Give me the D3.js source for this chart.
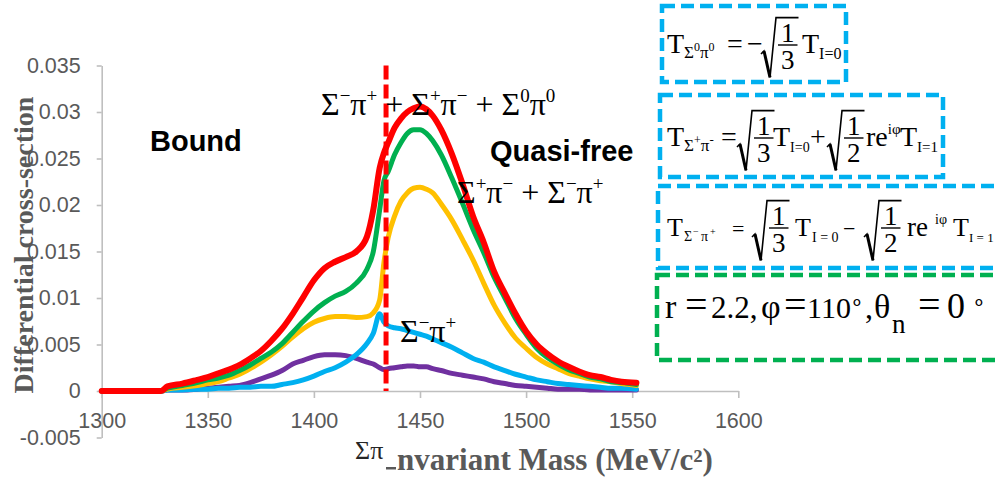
<!DOCTYPE html>
<html><head><meta charset="utf-8">
<script src="https://cdn.jsdelivr.net/npm/d3@7"></script>
<style>body{margin:0;background:#fff}</style>
</head><body>
<script>
// ---------- data ----------
const masses = [1300,1328,1331,1338,1345,1350,1355,1360,1365,1370,1375,1380,1385,1390,1395,1400,1405,1410,1415,1420,1425,1428,1431,1433,1435,1438,1441,1444,1447,1450,1453,1456,1460,1465,1470,1475,1480,1485,1490,1495,1500,1505,1510,1515,1520,1525,1530,1535,1540,1545,1552];
const sigma0pi0 = [0,0,0.0001,0.0001,0.0002,0.0003,0.0004,0.0005,0.0006,0.0009,0.0013,0.0017,0.0022,0.0029,0.0033,0.0037,0.0039,0.0039,0.0038,0.0035,0.0031,0.0029,0.0025,0.0023,0.0024,0.0025,0.0026,0.0027,0.0027,0.0026,0.0026,0.0024,0.0022,0.0019,0.0017,0.0015,0.0013,0.0010,0.0008,0.0006,0.0005,0.0004,0.0003,0.0002,0.0002,0.0002,0.0001,0.0001,0.0001,0.0001,0.0001];
const sigmaMpiP = [0,0,0.0001,0.0001,0.0002,0.0002,0.0003,0.0003,0.0004,0.0004,0.0005,0.0005,0.0007,0.0009,0.0012,0.0016,0.0021,0.0025,0.0031,0.0039,0.0051,0.0062,0.0083,0.0074,0.0070,0.0068,0.0067,0.0065,0.0063,0.0061,0.0059,0.0056,0.0052,0.0047,0.0041,0.0035,0.0031,0.0026,0.0022,0.0018,0.0015,0.0012,0.0010,0.0008,0.0007,0.0006,0.0005,0.0004,0.0003,0.0003,0.0002];
const sigmaPpiM = [0,0,0.0002,0.0004,0.0006,0.0008,0.0010,0.0014,0.0018,0.0024,0.0031,0.0039,0.0048,0.0058,0.0067,0.0074,0.0078,0.0080,0.0080,0.0079,0.0080,0.0084,0.0098,0.0138,0.0165,0.0188,0.0204,0.0213,0.0218,0.0219,0.0217,0.0213,0.0201,0.0184,0.0163,0.0141,0.0116,0.0092,0.0073,0.0057,0.0046,0.0036,0.0029,0.0024,0.0019,0.0016,0.0013,0.0011,0.0010,0.0008,0.0006];
const chargedSum = [0,0,0.0003,0.0006,0.0009,0.0012,0.0014,0.0017,0.0022,0.0028,0.0035,0.0042,0.0051,0.0063,0.0075,0.0086,0.0095,0.0102,0.0107,0.0116,0.0131,0.0150,0.0195,0.0226,0.0236,0.0254,0.0267,0.0277,0.0281,0.0281,0.0277,0.0269,0.0254,0.0229,0.0202,0.0174,0.0149,0.0122,0.0100,0.0078,0.0061,0.0046,0.0036,0.0029,0.0023,0.0019,0.0015,0.0013,0.0010,0.0009,0.0007];
const totalSum = [0,0,0.0005,0.0008,0.0012,0.0015,0.0019,0.0023,0.0028,0.0035,0.0043,0.0054,0.0067,0.0083,0.0101,0.0119,0.0132,0.0139,0.0144,0.0150,0.0166,0.0195,0.0240,0.0256,0.0267,0.0283,0.0293,0.0300,0.0304,0.0306,0.0303,0.0296,0.0281,0.0255,0.0223,0.0188,0.0160,0.0128,0.0105,0.0083,0.0064,0.0050,0.0040,0.0032,0.0026,0.0021,0.0017,0.0015,0.0012,0.0010,0.0009];
const seriesValues = [sigma0pi0, sigmaMpiP, sigmaPpiM, chargedSum, totalSum];
const seriesColors = ["#7030a0","#00b0f0","#ffc000","#00b050","#ff0000"];
const seriesWidths = [5,5,5,5,6];
const kbarNThreshold = 1434;
const xTicks = [1300,1350,1400,1450,1500,1550,1600];
const yTicks = [-0.005,0,0.005,0.01,0.015,0.02,0.025,0.03,0.035];
const yTickLabels = ["-0.005","0","0.005","0.01","0.015","0.02","0.025","0.03","0.035"];

// ---------- setup ----------
const W = 995, H = 478;
const svg = d3.select("body").append("svg").attr("width", W).attr("height", H)
  .style("background", "#fff");
const x = d3.scaleLinear().domain([1300, 1600]).range([101.7, 738.3]);
const y = d3.scaleLinear().domain([-0.005, 0.035]).range([437.5, 65.5]);

const axisColor = "#bfbfbf", labelColor = "#595959";
const tickFont = "'Liberation Sans', Arial, sans-serif";
const serif = "'Liberation Serif', 'Times New Roman', serif";

// y axis
const gy = svg.append("g").attr("transform", `translate(${x(1300)},0)`)
  .call(d3.axisLeft(y).tickValues(yTicks).tickFormat((d, i) => yTickLabels[i])
    .tickSizeInner(5).tickSizeOuter(0).tickPadding(16));
// x axis at zero
const gx = svg.append("g").attr("transform", `translate(0,${y(0)})`)
  .call(d3.axisBottom(x).tickValues(xTicks).tickFormat(d3.format("d"))
    .tickSizeInner(7).tickSizeOuter(0).tickPadding(15));
[gx, gy].forEach(g => {
  g.select(".domain").attr("stroke", axisColor).attr("stroke-width", 1.6);
  g.selectAll(".tick line").attr("stroke", axisColor).attr("stroke-width", 1.6);
  g.selectAll(".tick text").attr("fill", labelColor).attr("font-size", 21.5).attr("font-family", tickFont);
});

// axis titles
svg.append("text").attr("transform", "translate(33,245) rotate(-90)")
  .attr("text-anchor", "middle").attr("font-family", serif).attr("font-weight", "bold")
  .attr("font-size", 28).attr("fill", labelColor).text("Differential cross-section");
const xt = svg.append("text").attr("font-family", serif);
xt.append("tspan").attr("x", 355).attr("y", 459).attr("font-size", 26).attr("fill", "#262626").text("Σπ");
xt.append("tspan").attr("x", 385).attr("y", 470).attr("font-size", 31).attr("font-weight", "bold")
  .attr("fill", "#fff").text("I");
xt.append("tspan").attr("font-size", 31).attr("font-weight", "bold").attr("fill", labelColor)
  .text("nvariant Mass (MeV/c²)");
svg.append("rect").attr("x", 386).attr("y", 467).attr("width", 10).attr("height", 2.5).attr("fill", labelColor);

// ---------- curves ----------
const line = d3.line().x((d, i) => x(masses[i])).y(d => y(d)).curve(d3.curveMonotoneX);
seriesValues.forEach((vals, k) => {
  svg.append("path").datum(vals).attr("d", line).attr("fill", "none")
    .attr("stroke", seriesColors[k]).attr("stroke-width", seriesWidths[k])
    .attr("stroke-linejoin", "round").attr("stroke-linecap", "round");
});

// threshold dashed line
svg.append("line").attr("x1", x(kbarNThreshold)).attr("x2", x(kbarNThreshold))
  .attr("y1", y(0.035)).attr("y2", y(0)).attr("stroke", "#ff0000")
  .attr("stroke-width", 5).attr("stroke-dasharray", "14,5");

// ---------- labels ----------
svg.append("text").attr("x", 150).attr("y", 151).attr("font-family", tickFont)
  .attr("font-weight", "bold").attr("font-size", 29).attr("fill", "#000").text("Bound");
svg.append("text").attr("x", 490).attr("y", 161).attr("font-family", tickFont)
  .attr("font-weight", "bold").attr("font-size", 29).attr("fill", "#000").text("Quasi-free");

function sigmaLabel(x0, base, parts, fs, sfs) {
  const t = svg.append("text").attr("x", x0).attr("y", base).attr("font-family", serif).attr("fill", "#000");
  parts.forEach(p => {
    t.append("tspan").attr("y", p[1] === "s" ? base - fs * 0.4 : base)
      .attr("font-size", p[1] === "s" ? sfs : fs).text(p[0]);
  });
}
sigmaLabel(321, 115, [["Σ","n"],["−","s"],["π","n"],["+","s"],[" + ","n"],["Σ","n"],["+","s"],["π","n"],["−","s"],[" + ","n"],["Σ","n"],["0","s"],["π","n"],["0","s"]], 32, 19);
sigmaLabel(457, 203, [["Σ","n"],["+","s"],["π","n"],["−","s"],[" + ","n"],["Σ","n"],["−","s"],["π","n"],["+","s"]], 32, 19);
sigmaLabel(400, 342, [["Σ","n"],["−","s"],["π","n"],["+","s"]], 32, 19);

// ---------- formula boxes ----------
const blue = "#00b0f0", green = "#00b050";
function box(x0, y0, w, h, col) {
  svg.append("rect").attr("x", x0).attr("y", y0).attr("width", w).attr("height", h)
    .attr("fill", "none").attr("stroke", col).attr("stroke-width", 4.5).attr("stroke-dasharray", "13,6");
}
box(662, 6, 184, 76, blue);
box(660, 95, 283, 82, blue);
box(658, 186, 345, 82, blue);
box(657, 275, 345, 85, green);

function flow(base, items) {
  const g = svg.append("g");
  const txt = g.append("text").attr("font-family", serif).attr("fill", "#000");
  let cx = 0;
  items.forEach(it => {
    if (it.at !== undefined) cx = it.at;
    if (it.sqrt) {
      const fs = it.fs || 27;
      const bar = base - 8;
      const w = fs * 0.5 + 6;
      const rw = 16;
      const fx = cx + rw + 1;
      const dx = (w - fs * 0.5) / 2;
      txt.append("tspan").attr("x", fx + dx).attr("y", bar - 3).attr("font-size", fs).text(it.sqrt[0]);
      txt.append("tspan").attr("x", fx + dx).attr("y", bar + fs * 0.68 + 6).attr("font-size", fs).text(it.sqrt[1]);
      const top = bar - fs * 0.68 - 9, bot = bar + fs * 0.68 + 14;
      g.append("line").attr("x1", fx).attr("x2", fx + w).attr("y1", bar).attr("y2", bar)
        .attr("stroke", "#000").attr("stroke-width", 1.4);
      g.append("path").attr("d", `M${cx},${bar + 9} L${cx + 3},${bar + 6} L${cx + 9},${bot} L${cx + rw - 1},${top} L${fx + w + 1},${top}`)
        .attr("fill", "none").attr("stroke", "#000").attr("stroke-width", 1.6).attr("stroke-linejoin", "miter");
      g.append("path").attr("d", `M${cx + 3},${bar + 6} L${cx + 9},${bot}`)
        .attr("stroke", "#000").attr("stroke-width", 3);
      cx = fx + w + 2;
      return;
    }
    const t = txt.append("tspan").attr("x", cx).attr("y", base + (it.dy || 0))
      .attr("font-size", it.fs).text(it.t);
    cx += t.node().getComputedTextLength();
  });
}
flow(53, [{at:667, t:"T", fs:28}, {t:"Σ", fs:17, dy:5}, {t:"0", fs:12, dy:-2}, {t:"π", fs:17, dy:5}, {t:"0", fs:12, dy:-2},
  {at:727, t:"=", fs:28}, {at:747, t:"−", fs:28}, {at:761, sqrt:["1","3"]}, {at:802, t:"T", fs:28}, {t:"I=0", fs:16, dy:6}]);
flow(146, [{at:667, t:"T", fs:28}, {t:"Σ", fs:17, dy:5}, {t:"+", fs:12, dy:-2}, {t:"π", fs:17, dy:5}, {t:"-", fs:13, dy:-2},
  {at:721, t:"=", fs:28}, {at:737, sqrt:["1","3"]}, {at:773, t:"T", fs:28}, {t:"I=0", fs:14, dy:6},
  {at:810, t:"+", fs:28}, {at:827, sqrt:["1","2"]}, {at:866, t:"re", fs:28}, {t:"iφ", fs:15, dy:-12},
  {at:900, t:"T", fs:28}, {t:"I=1", fs:15, dy:6}]);
flow(236, [{at:667, t:"T", fs:26}, {at:684, t:"Σ", fs:14, dy:5}, {at:693, t:"−", fs:10, dy:-1}, {at:701, t:"π", fs:14, dy:5},
  {at:710, t:"+", fs:10, dy:-1}, {at:732, t:"=", fs:22}, {at:752, sqrt:["1","3"]}, {at:795, t:"T", fs:26},
  {at:812, t:"I = 0", fs:14, dy:6}, {at:843, t:"−", fs:22}, {at:864, sqrt:["1","2"]}, {at:907, t:"re", fs:27},
  {at:935, t:"iφ", fs:14, dy:-12}, {at:953, t:"T", fs:26}, {at:969, t:"I = 1", fs:13, dy:6}]);
flow(318, [{at:665, t:"r", fs:34}, {at:685, t:"=", fs:40}, {at:711, t:"2.2,", fs:31}, {at:761, t:"φ", fs:34},
  {at:784, t:"=", fs:40}, {at:807, t:"110", fs:30}, {at:850, t:"∘", fs:22, dy:-9}, {at:865, t:",", fs:32},
  {at:874, t:"θ", fs:34}, {at:892, t:"n", fs:27, dy:15}, {at:918, t:"=", fs:40}, {at:947, t:"0", fs:36},
  {at:972, t:"∘", fs:22, dy:-9}]);
</script>
</body></html>
